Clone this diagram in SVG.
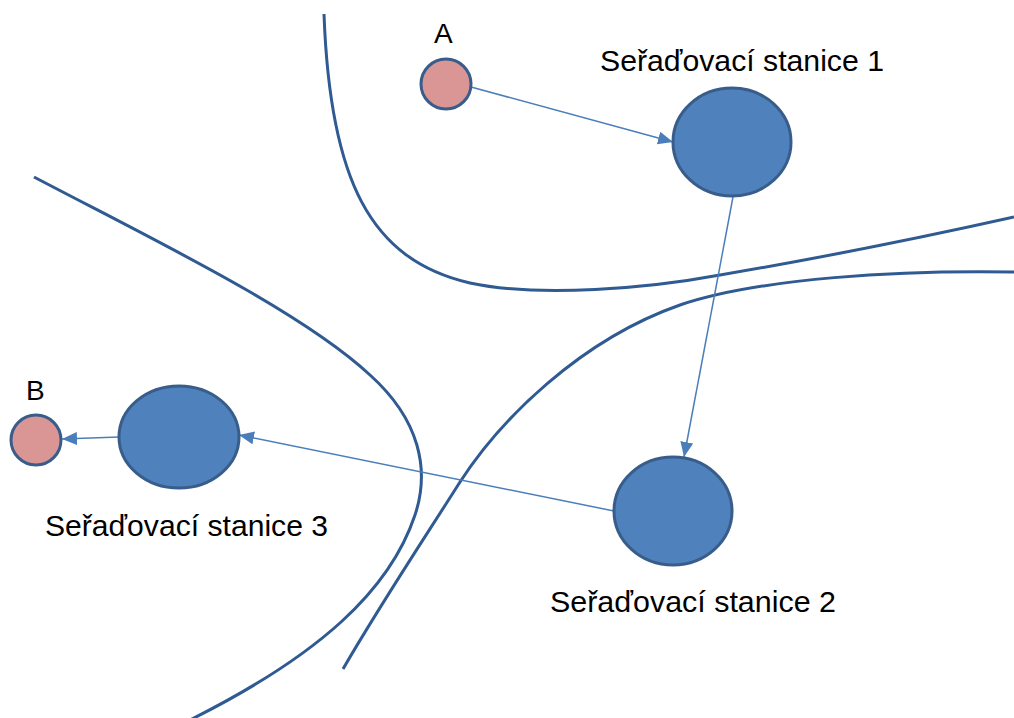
<svg xmlns="http://www.w3.org/2000/svg" width="1014" height="718" viewBox="0 0 1014 718">
<style>
  .curve { fill: none; stroke: #2f5a92; stroke-width: 3; }
  .station { fill: #4f81bd; stroke: #385d8a; stroke-width: 3; }
  .endpoint { fill: #d99694; stroke: #385d8a; stroke-width: 3; }
  .conn { stroke: #4a7ebb; stroke-width: 1.5; fill: none; }
  .lbl { font-family: "Liberation Sans", Arial, sans-serif; font-size: 29px; fill: #000; }
  .small { font-size: 28px; }
</style>
<defs>
  <marker id="arr" markerUnits="userSpaceOnUse" markerWidth="15" markerHeight="13" refX="15" refY="6.5" orient="auto">
    <path d="M0,0 L15,6.5 L0,13 z" fill="#4a7ebb"/>
  </marker>
</defs>
<rect width="1014" height="718" fill="#ffffff"/>
<g id="curves">
  <path class="curve" d="M324,14 C330,180 370,260 470,283 C540,298 650,288 720,275 C820,258 920,238 1014,217"/>
  <path class="curve" d="M1014,272 C900,270 760,278 680,305 C580,340 500,420 460,482 C420,545 380,605 343,669"/>
  <path class="curve" d="M34,177 C150,238 300,310 370,375 C420,420 430,470 415,515 C390,590 320,655 190,720"/>
</g>
<g id="connectors">
  <line class="conn" x1="471" y1="87" x2="673" y2="142" marker-end="url(#arr)"/>
  <line class="conn" x1="733" y1="197" x2="684" y2="457" marker-end="url(#arr)"/>
  <line class="conn" x1="614" y1="511" x2="239" y2="435" marker-end="url(#arr)"/>
  <line class="conn" x1="119" y1="437" x2="62" y2="439" marker-end="url(#arr)"/>
</g>
<g id="nodeA">
  <circle class="endpoint" cx="446" cy="84" r="25"/>
  <text class="lbl small" x="434" y="43">A</text>
</g>
<g id="station1">
  <ellipse class="station" cx="732" cy="142" rx="59" ry="54"/>
  <text class="lbl" x="600" y="71" textLength="284" lengthAdjust="spacingAndGlyphs">Seřaďovací stanice 1</text>
</g>
<g id="station2">
  <ellipse class="station" cx="673" cy="511" rx="59" ry="54"/>
  <text class="lbl" x="550" y="612" textLength="286" lengthAdjust="spacingAndGlyphs">Seřaďovací stanice 2</text>
</g>
<g id="station3">
  <ellipse class="station" cx="179" cy="437" rx="60" ry="51"/>
  <text class="lbl" x="45" y="536" textLength="283" lengthAdjust="spacingAndGlyphs">Seřaďovací stanice 3</text>
</g>
<g id="nodeB">
  <circle class="endpoint" cx="36" cy="440" r="25"/>
  <text class="lbl small" x="26" y="400">B</text>
</g>
</svg>
